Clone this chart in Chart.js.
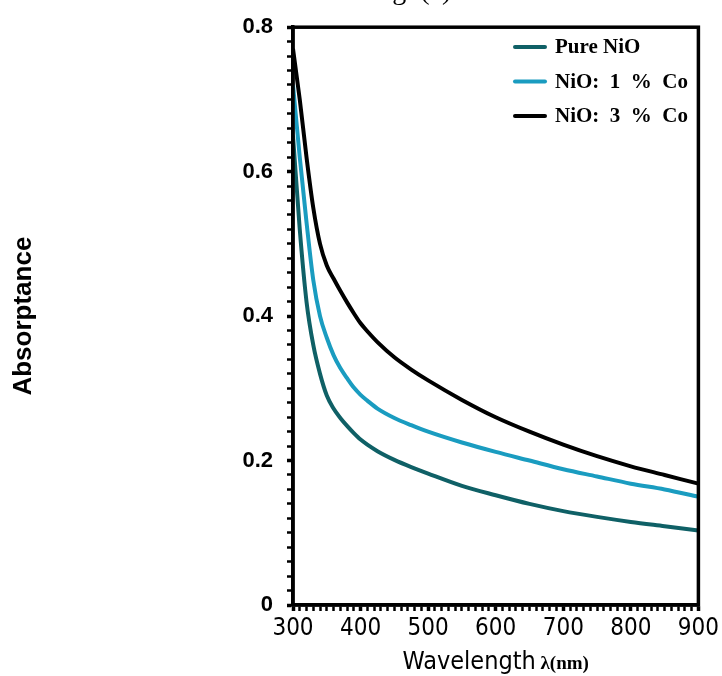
<!DOCTYPE html>
<html>
<head>
<meta charset="utf-8">
<script src="https://cdn.jsdelivr.net/npm/chart.js@4.4.0/dist/chart.umd.min.js"></script>
<style>
  body { margin: 0; background: #fff; }
  #wrap { width: 722px; height: 676px; }
</style>
</head>
<body>
<div id="wrap"><canvas id="absChart" width="722" height="676"></canvas></div>
<script>
// wavelength (nm) and absorptance
const wavelength = [300, 310, 320, 330, 340, 350, 360, 370, 380, 390, 400, 410, 425, 450, 475, 500, 550, 600, 650, 700, 750, 800, 850, 900];
const pureNiO    = [0.65, 0.52, 0.42, 0.36, 0.32, 0.29, 0.272, 0.259, 0.248, 0.238, 0.229, 0.222, 0.213, 0.201, 0.191, 0.182, 0.165, 0.152, 0.14, 0.13, 0.122, 0.115, 0.109, 0.103];
const co1        = [0.72, 0.62, 0.53, 0.45, 0.40, 0.37, 0.346, 0.328, 0.314, 0.301, 0.291, 0.283, 0.272, 0.259, 0.249, 0.24, 0.225, 0.212, 0.20, 0.188, 0.178, 0.168, 0.16, 0.15];
const co3        = [0.77, 0.70, 0.62, 0.55, 0.50, 0.47, 0.452, 0.435, 0.419, 0.404, 0.39, 0.379, 0.364, 0.343, 0.326, 0.311, 0.284, 0.26, 0.24, 0.222, 0.206, 0.192, 0.18, 0.168];
const seriesNames = ["Pure NiO", "NiO: 1 % Co", "NiO: 3 % Co"];
const seriesColors = ["#0f6066", "#1a9cc0", "#000000"];
const xTicks = [300, 400, 500, 600, 700, 800, 900];
const yTicks = [0, 0.2, 0.4, 0.6, 0.8];

const toPoints = (ys) => wavelength.map((x, i) => ({ x: x, y: ys[i] }));

// frame, legend, x title and the clipped caption at the top
const extras = {
  id: "extras",
  afterDraw(chart) {
    const ctx = chart.ctx;
    const a = chart.chartArea;
    ctx.save();
    ctx.strokeStyle = "#000";
    ctx.lineWidth = 3.5;
    ctx.strokeRect(a.left, a.top, a.right - a.left, a.bottom - a.top);

    // legend (the Co entries are set with wide spaces in the original)
    ctx.font = "bold 21px 'Liberation Serif', 'Times New Roman', serif";
    ctx.textBaseline = "middle";
    seriesNames.forEach((name, i) => {
      const y = 47 + i * 34.5;
      ctx.strokeStyle = seriesColors[i];
      ctx.lineWidth = 4;
      ctx.lineCap = "round";
      ctx.beginPath();
      ctx.moveTo(515, y);
      ctx.lineTo(545, y);
      ctx.stroke();
      ctx.fillStyle = "#000";
      const txt = name.includes(":") ? name.replace(/ /g, "\u2002") : name;
      ctx.fillText(txt, 555, y + 1);
    });

    // x title: mixed fonts
    ctx.textBaseline = "alphabetic";
    ctx.fillStyle = "#000";
    const f1 = "25px 'Liberation Sans Narrow', 'DejaVu Sans Condensed', Arial, sans-serif";
    const f2 = "bold 19px 'Liberation Serif', serif";
    ctx.font = f1;
    const t1 = "Wavelength";
    const w1 = ctx.measureText(t1).width;
    ctx.font = f2;
    const t2 = " λ(nm)";
    const w2 = ctx.measureText(t2).width;
    const x0 = (a.left + a.right) / 2 - (w1 + w2) / 2;
    ctx.font = f1;
    ctx.fillText(t1, x0, 669);
    ctx.font = f2;
    ctx.fillText(t2, x0 + w1, 669);

    // caption cut by the top edge
    ctx.font = "28px 'Liberation Serif', serif";
    ctx.textAlign = "center";
    ctx.fillText("Fig. (a)", 410, -1);
    ctx.restore();
  }
};

new Chart(document.getElementById("absChart"), {
  type: "line",
  data: {
    datasets: [
      { label: seriesNames[0], data: toPoints(pureNiO), borderColor: seriesColors[0] },
      { label: seriesNames[1], data: toPoints(co1), borderColor: seriesColors[1] },
      { label: seriesNames[2], data: toPoints(co3), borderColor: seriesColors[2] },
    ].map((d) => Object.assign(d, {
      borderWidth: 4,
      pointRadius: 0,
      fill: false,
      cubicInterpolationMode: "monotone",
    })),
  },
  options: {
    responsive: false,
    animation: false,
    layout: { padding: { top: 22, right: 19, left: 0, bottom: 0 } },
    plugins: {
      legend: { display: false },
      tooltip: { enabled: false },
    },
    scales: {
      x: {
        type: "linear",
        min: 300,
        max: 900,
        afterFit: (s) => { s.height = 71; },
        ticks: {
          stepSize: 10,
          autoSkip: false,
          maxTicksLimit: 100,
          maxRotation: 0,
          padding: 3,
          color: "#000",
          font: { family: "'Liberation Sans Narrow', 'DejaVu Sans Condensed', Arial, sans-serif", size: 24 },
          callback: (v) => (xTicks.includes(v) ? String(v) : ""),
        },
        grid: {
          drawOnChartArea: false,
          tickLength: 6,
          tickColor: "#000",
          tickWidth: (c) => (xTicks.includes(c.tick && c.tick.value) ? 3.5 : 2.5),
        },
        border: { color: "#000", width: 3.5 },
      },
      y: {
        min: 0,
        max: 0.8,
        afterFit: (s) => { s.width = 293; },
        ticks: {
          stepSize: 0.02,
          autoSkip: false,
          maxTicksLimit: 100,
          padding: 14,
          color: "#000",
          font: { family: "'Liberation Sans', Arial, sans-serif", size: 22, weight: "bold" },
          callback: (v) => {
            const m = yTicks.find((t) => Math.abs(t - v) < 1e-6);
            if (m === undefined) return "";
            return m === 0 ? "0" : m.toFixed(1);
          },
        },
        grid: {
          drawOnChartArea: false,
          tickLength: 6,
          tickColor: "#000",
          tickWidth: (c) => (yTicks.some((t) => Math.abs(t - (c.tick ? c.tick.value : -1)) < 1e-6) ? 3.5 : 2.5),
        },
        border: { color: "#000", width: 3.5 },
        title: {
          display: true,
          text: "Absorptance",
          color: "#000",
          font: { family: "'Liberation Sans', Arial, sans-serif", size: 26, weight: "bold" },
          padding: { top: 8, bottom: 0 },
        },
      },
    },
  },
  plugins: [extras],
});
</script>
</body>
</html>
